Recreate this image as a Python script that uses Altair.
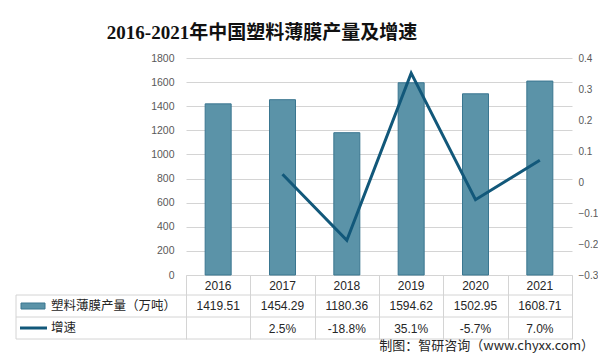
import altair as alt
import pandas as pd

years = ["2016", "2017", "2018", "2019", "2020", "2021"]
output = [1419.51, 1454.29, 1180.36, 1594.62, 1502.95, 1608.71]
growth_years = ["2017", "2018", "2019", "2020", "2021"]
growth = [0.025, -0.188, 0.351, -0.057, 0.070]
growth_labels = ["2.5%", "-18.8%", "35.1%", "-5.7%", "7.0%"]
title_text = "2016-2021年中国塑料薄膜产量及增速"
bar_name = "塑料薄膜产量（万吨）"
line_name = "增速"
source_text = "制图：智研咨询（www.chyxx.com）"
left_ticks = [0, 200, 400, 600, 800, 1000, 1200, 1400, 1600, 1800]
right_ticks = [-0.3, -0.2, -0.1, 0, 0.1, 0.2, 0.3, 0.4]

W, H = 386, 217
BAR = "#5b93a8"
BAR_STROKE = "#3a7690"
LINE = "#12587a"
GRID = "#d4d4d4"
CJK = "Noto Sans CJK SC"
NUM = "Liberation Sans"

df = pd.DataFrame({"year": years, "output": output})
dg = pd.DataFrame({"year": growth_years, "growth": growth, "label": growth_labels})
one = pd.DataFrame({"a": [0]})

x = alt.X(
    "year:N", sort=years,
    scale=alt.Scale(paddingInner=0, paddingOuter=0),
    axis=alt.Axis(title=None, labels=False, ticks=True, tickBand="extent",
                  tickSize=64, tickColor=GRID, domain=True, domainColor=GRID,
                  grid=False),
)

bars = alt.Chart(df).mark_bar(size=26, color=BAR, stroke=BAR_STROKE, strokeWidth=1).encode(
    x=x,
    y=alt.Y("output:Q", scale=alt.Scale(domain=[0, 1800]),
            axis=alt.Axis(title=None, values=left_ticks, format="d", grid=True,
                          gridColor=GRID, domain=False, ticks=False,
                          labelColor="#595959", labelFontSize=10.5, labelFont=NUM,
                          labelPadding=12)),
)

line = alt.Chart(dg).mark_line(color=LINE, strokeWidth=3).encode(
    x=x,
    y=alt.Y("growth:Q", scale=alt.Scale(domain=[-0.3, 0.4]),
            axis=alt.Axis(orient="right", title=None, values=right_ticks, format=".1~f",
                          grid=False, domain=False, ticks=False,
                          labelColor="#595959", labelFontSize=10, labelFont=NUM,
                          labelPadding=6)),
)

year_txt = alt.Chart(df).mark_text(fontSize=12, font=NUM, color="#262626").encode(
    x=x, y=alt.value(228), text="year:N")
val_txt = alt.Chart(df).mark_text(fontSize=12, font=NUM, color="#262626").encode(
    x=x, y=alt.value(248), text=alt.Text("output:Q", format=".2f"))
gr_txt = alt.Chart(dg).mark_text(fontSize=12, font=NUM, color="#262626").encode(
    x=x, y=alt.value(271), text="label:N")

def hrule(yv):
    return alt.Chart(one).mark_rule(color=GRID, strokeWidth=1).encode(
        x=alt.value(-170), x2=alt.value(W), y=alt.value(yv))

rules = [hrule(237), hrule(259), hrule(281)]
vleft = alt.Chart(one).mark_rule(color=GRID, strokeWidth=1).encode(
    x=alt.value(-170), y=alt.value(237), y2=alt.value(281))

sw_bar = alt.Chart(one).mark_rect(color=BAR, stroke=BAR_STROKE, strokeWidth=1).encode(
    x=alt.value(-165), x2=alt.value(-141), y=alt.value(245), y2=alt.value(251))
sw_line = alt.Chart(one).mark_rule(color=LINE, strokeWidth=3).encode(
    x=alt.value(-166), x2=alt.value(-139), y=alt.value(270))
lab_bar = alt.Chart(one).mark_text(align="left", baseline="middle", fontSize=12.5,
                                   font=CJK, color="#262626").encode(
    x=alt.value(-135), y=alt.value(248), text=alt.value(bar_name))
lab_line = alt.Chart(one).mark_text(align="left", baseline="middle", fontSize=12.5,
                                    font=CJK, color="#262626").encode(
    x=alt.value(-135), y=alt.value(270), text=alt.value(line_name))

title = alt.Chart(one).mark_text(align="center", baseline="middle", fontSize=19,
                                 fontWeight="bold",
                                 font="Liberation Serif, Noto Sans CJK SC",
                                 color="#111111").encode(
    x=alt.value(76), y=alt.value(-25), text=alt.value(title_text))
source = alt.Chart(one).mark_text(align="right", baseline="middle", fontSize=13,
                                  font=CJK, color="#262626").encode(
    x=alt.value(408), y=alt.value(288), text=alt.value(source_text))

chart = alt.layer(
    bars, line, *rules, vleft, year_txt, val_txt, gr_txt,
    sw_bar, sw_line, lab_bar, lab_line, title, source
).resolve_scale(y="independent").properties(
    width=W, height=H, autosize="none",
    padding={"left": 178, "top": 50, "right": 26, "bottom": 81},
).configure_view(stroke=None)

chart.save("out.html", embed_options={"renderer": "svg", "actions": False})
